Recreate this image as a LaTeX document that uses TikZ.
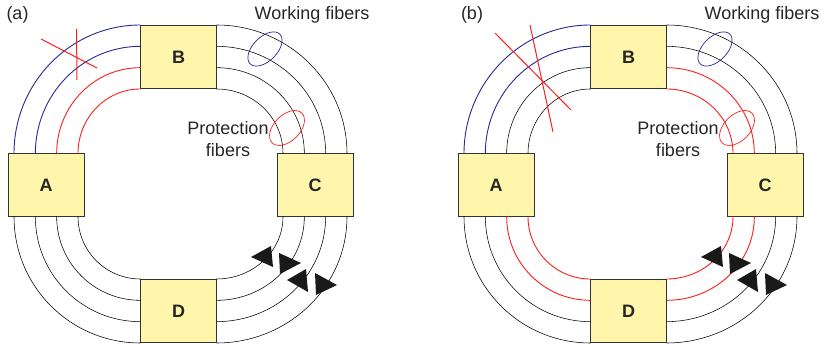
\documentclass[tikz,border=0pt]{standalone}
\usepackage{fontspec}
\setmainfont{Liberation Sans}
\usetikzlibrary{calc,positioning}

\definecolor{boxyellow}{RGB}{255,246,172}
\definecolor{fiberblue}{RGB}{40,40,150}
\definecolor{fiberred}{RGB}{250,30,30}

\tikzset{
  station/.style={draw=black!80, fill=boxyellow, line width=0.8pt,
    minimum width=76pt, minimum height=63pt, inner sep=0pt, outer sep=0pt,
    font=\fontsize{18}{21}\selectfont\bfseries, text=black!85},
  fib/.style={black, line width=0.55pt},
  wfib/.style={fiberblue, line width=0.9pt},
  pfib/.style={fiberred, line width=0.9pt},
  txt/.style={font=\fontsize{18}{22}\selectfont, text=black!85, inner sep=0pt},
  cut/.style={fiberred, line width=1pt},
  head/.style={fill=black!90},
}

% one ring: #1 panel, then the colours of the A-B, B-C, C-D, D-A spans
\newcommand{\fiberring}[5]{%
  \node[station] (#1-A) at (46,158) {A};
  \node[station] (#1-B) at (178.5,286) {B};
  \node[station] (#1-C) at (315,158) {C};
  \node[station] (#1-D) at (178.5,32) {D};
  \foreach \c [count=\i from 0] in {#2}
    \draw[\c] ($(#1-B.west)+(0,32-21.33*\i)$) to[out=180,in=90] ($(#1-A.north)+(-32+21.33*\i,0)$);
  \foreach \c [count=\i from 0] in {#3}
    \draw[\c] ($(#1-B.east)+(0,32-21.33*\i)$) to[out=0,in=90] ($(#1-C.north)+(32-21.33*\i,0)$);
  \foreach \c [count=\i from 0] in {#4}
    \draw[\c] ($(#1-C.south)+(32-21.33*\i,0)$) to[out=-90,in=0] ($(#1-D.east)+(0,-32+21.33*\i)$);
  \foreach \c [count=\i from 0] in {#5}
    \draw[\c] ($(#1-D.west)+(0,-32+21.33*\i)$) to[out=180,in=-90] ($(#1-A.south)+(-32+21.33*\i,0)$);
  % working / protection marks
  \draw[fiberblue, line width=0.7pt, rotate around={45:(265,294)}] (265,294) ellipse (21 and 12);
  \draw[fiberred, line width=0.7pt, rotate around={45:(287,215)}] (287,215) ellipse (21 and 13);
  \node[txt] (#1-work) at (312,328) {Working fibers};
  \node[txt, align=center] (#1-prot) at (228,204) {Protection\\fibers};
  % direction heads
  \fill[head] (251,86) -- (271,97) -- (273,76) -- cycle;
  \fill[head] (279,90) -- (280,69) -- (301,80) -- cycle;
  \fill[head] (287,63) -- (306,74) -- (308,51) -- cycle;
  \fill[head] (315,70) -- (316,48) -- (337,58) -- cycle;
}

\begin{document}
\begin{tikzpicture}[x=1pt, y=1pt]
  \useasboundingbox (0,0) rectangle (825,343);

  \begin{scope}
    \fiberring{a}{wfib,wfib,pfib,pfib}{fib,fib,fib,fib}{fib,fib,fib,fib}{fib,fib,fib,fib}
    \draw[cut] (41,304) -- (97,275);
    \draw[cut] (76.5,314) -- (77,263);
  \end{scope}
  \node[txt] (lbl-a) at (17.5,328) {(a)};

  \begin{scope}[xshift=450pt]
    \fiberring{b}{wfib,wfib,fib,fib}{fib,fib,pfib,pfib}{fib,fib,pfib,pfib}{fib,fib,pfib,pfib}
    \draw[cut] (45,310) -- (121,233);
    \draw[cut] (80,318) -- (103,211);
  \end{scope}
  \node[txt] (lbl-b) at (472,328) {(b)};

\end{tikzpicture}
\end{document}
